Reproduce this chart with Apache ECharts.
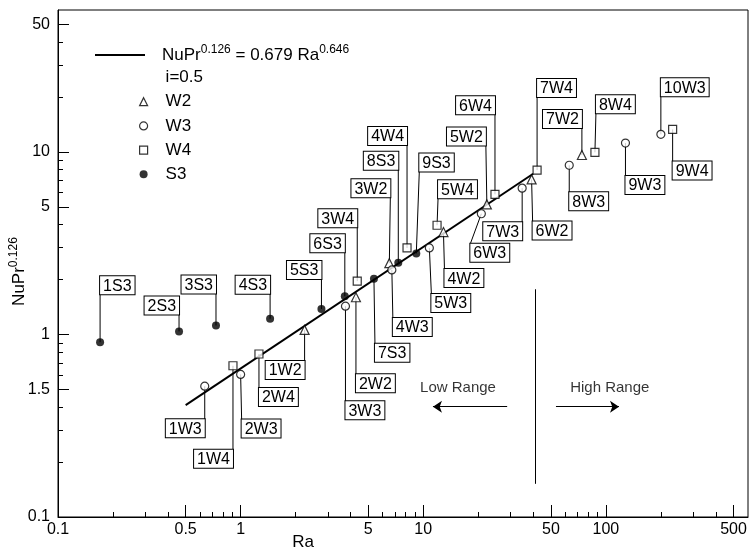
<!DOCTYPE html>
<html><head><meta charset="utf-8">
<script src="https://cdn.jsdelivr.net/npm/echarts@6/dist/echarts.min.js"></script>
<style>html,body{margin:0;padding:0;background:#fff}#c{width:751px;height:551px}</style>
</head><body><div id="c"></div>
<script>
// ---- data ----
const W2_Ra = [2.24, 4.28, 6.52, 12.9, 22.3, 39.2, 73.9];
const W2_Nu = [1.06, 1.60, 2.46, 3.64, 5.16, 7.08, 9.63];
const W2_ids = ['1W2','2W2','3W2','4W2','5W2','6W2','7W2'];

const W3_Ra = [0.636, 1.00, 3.75, 6.73, 10.8, 20.8, 34.8, 63.0, 128, 200];
const W3_Nu = [0.521, 0.604, 1.43, 2.26, 2.98, 4.59, 6.34, 8.46, 11.2, 12.5];
const W3_ids = ['1W3','2W3','3W3','4W3','5W3','6W3','7W3','8W3','9W3','10W3'];

const W4_Ra = [0.908, 1.26, 4.35, 8.15, 11.9, 24.7, 42.0, 87.1, 232];
const W4_Nu = [0.674, 0.782, 1.96, 2.98, 3.97, 5.86, 7.96, 9.96, 13.3];
const W4_ids = ['1W4','2W4','3W4','4W4','5W4','6W4','7W4','8W4','9W4'];

const S3_Ra = [0.170, 0.460, 0.733, 1.45, 2.77, 3.72, 5.37, 7.30, 9.16];
const S3_Nu = [0.907, 1.04, 1.12, 1.22, 1.38, 1.62, 2.02, 2.47, 2.78];
const S3_ids = ['1S3','2S3','3S3','4S3','5S3','6S3','7S3','8S3','9S3'];

const fitRa = [0.5, 40];
const fitNu = [0.41, 7.6];
const fitName = 'NuPr^0.126 = 0.679 Ra^0.646';

const dividerRa = [41, 41];
const dividerNu = [1.77, 0.152];
const lowArrowRa = [28.8, 11.3];
const highArrowRa = [53.3, 118];
const arrowNu = 0.402;
const rangeNotes = ['Low Range', 'High Range'];
const rangeNoteRa = [15.5, 105];
const rangeNoteNu = [0.511, 0.511];

const xMajorTicks = [0.1, 0.5, 1, 5, 10, 50, 100, 500];
const xTickLabels = ['0.1', '0.5', '1', '5', '10', '50', '100', '500'];
const xMinorTicks = [0.2,0.3,0.4,0.6,0.7,0.8,0.9,2,3,4,6,7,8,9,20,30,40,60,70,80,90,200,300,400];
const yMajorTicks = [0.1, 0.5, 1, 5, 10, 50];
const yTickLabels = ['0.1', '1.5', '1', '5', '10', '50'];
const yMinorTicks = [0.2,0.3,0.4,0.6,0.7,0.8,0.9,2,3,4,6,7,8,9,20,30,40];

// ---- label box placement (pixel offsets of the box corner from the point) ----
const labelPlace = {
 '1S3':[0,-48,'left'], '2S3':[0,-17,'right'], '3S3':[0,-32,'right'], '4S3':[0,-25,'right'],
 '5S3':[0,-30,'right'], '6S3':[0,-44,'right'], '7S3':[1,65,'left'], '8S3':[0,-93,'right'], '9S3':[3,-82,'left'],
 '1W2':[0,31,'right'], '2W2':[0,77,'left'], '3W2':[1,-66,'right'], '4W2':[1,37,'left'],
 '5W2':[-1,-59,'right'], '6W2':[1,42,'left'], '7W2':[0,-27,'right'],
 '1W3':[0,33,'right'], '2W3':[1,45,'left'], '3W3':[0,95,'left'], '4W3':[1,48,'left'], '5W3':[2,46,'left'],
 '6W3':[-11,30,'left'], '7W3':[0,34,'right'], '8W3':[0,27,'left'], '9W3':[0,33,'left'], '10W3':[0,-38,'left'],
 '1W4':[0,84,'right'], '2W4':[0,34,'left'], '3W4':[0,-54,'right'], '4W4':[0,-103,'right'], '5W4':[1,-27,'left'],
 '6W4':[0,-80,'right'], '7W4':[0,-73,'left'], '8W4':[1,-39,'left'], '9W4':[0,32,'left']
};

const FONT = 'Liberation Sans';
function pairs(xs, ys) { return xs.map((x, i) => [x, ys[i]]); }
function pickLabel(vals, labels) {
  return function (v) {
    for (let i = 0; i < vals.length; i++) {
      if (Math.abs(Math.log10(vals[i]) - Math.log10(v)) < 1e-6) return labels[i];
    }
    return '';
  };
}

const annot = [];
[[W2_Ra, W2_Nu, W2_ids], [W3_Ra, W3_Nu, W3_ids], [W4_Ra, W4_Nu, W4_ids], [S3_Ra, S3_Nu, S3_ids]].forEach(g => {
  g[0].forEach((x, i) => annot.push({ ra: x, nu: g[1][i], name: g[2][i] }));
});

const hollow = { color: '#fff', borderColor: '#000', borderWidth: 1.2 };

const chart = echarts.init(document.getElementById('c'), null, { renderer: 'canvas' });
chart.setOption({
  animation: false,
  backgroundColor: '#fff',
  textStyle: { fontFamily: FONT, color: '#000' },
  grid: { left: 58, right: 3, top: 10, bottom: 34, show: true, borderColor: '#000', borderWidth: 1,
          backgroundColor: 'transparent', containLabel: false, outerBoundsMode: 'none' },
  legend: [
    { data: [{ name: fitName, icon: 'path://M0 0 L100 0 L100 4 L0 4 Z' }], left: 95, top: 44, padding: 0,
      itemWidth: 58, itemHeight: 2, selectedMode: false,
      itemStyle: { color: '#000', borderWidth: 0 },
      formatter: () => '{f|NuPr}{s|0.126}{b| = 0.679 Ra}{s|0.646}',
      textStyle: { color: '#000', rich: {
        f: { fontSize: 17, fontFamily: FONT, lineHeight: 22, verticalAlign: 'middle', padding: [0, 0, 0, 8] },
        b: { fontSize: 17, fontFamily: FONT, lineHeight: 22, verticalAlign: 'middle' },
        s: { fontSize: 12, fontFamily: FONT, verticalAlign: 'top' } } } },
    { data: [{ name: 'i=0.5', icon: 'none' }, 'W2', 'W3', 'W4', 'S3'], orient: 'vertical',
      left: 139, top: 69, padding: 0, itemWidth: 8, itemHeight: 8, itemGap: 7.2, selectedMode: false,
      itemStyle: { borderWidth: 1.2 },
      textStyle: { fontSize: 17, color: '#000', fontFamily: FONT, padding: [0, 0, 0, 13] } }
  ],
  xAxis: [
    { type: 'log', logBase: 10, min: 0.1, max: 600, position: 'bottom',
      name: 'Ra', nameLocation: 'middle', nameGap: 17, nameMoveOverlap: false,
      nameTextStyle: { fontSize: 17, color: '#000', fontFamily: FONT, padding: [0, 200, 0, 0] },
      axisLine: { show: true, lineStyle: { color: '#000', width: 1 } },
      axisTick: { show: true, inside: true, length: 12, customValues: xMajorTicks, lineStyle: { color: '#000', width: 1 } },
      axisLabel: { customValues: xMajorTicks, formatter: pickLabel(xMajorTicks, xTickLabels), color: '#000', fontSize: 16, margin: 5, fontFamily: FONT },
      splitLine: { show: false }, minorTick: { show: false } },
    { type: 'log', logBase: 10, min: 0.1, max: 600, position: 'bottom',
      axisLine: { show: false },
      axisTick: { show: true, inside: true, length: 5, customValues: xMinorTicks, lineStyle: { color: '#000', width: 1 } },
      axisLabel: { show: false }, splitLine: { show: false } }
  ],
  yAxis: [
    { type: 'log', logBase: 10, min: 0.1, max: 60, position: 'left',
      name: '{b|NuPr}{s|0.126}', nameLocation: 'middle', nameGap: 28, nameRotate: 90, nameMoveOverlap: false,
      nameTextStyle: { color: '#000', padding: [0, 16, 0, 0], rich: {
        b: { fontSize: 17, fontFamily: FONT, lineHeight: 22, verticalAlign: 'middle' },
        s: { fontSize: 12, fontFamily: FONT, verticalAlign: 'top' } } },
      axisLine: { show: true, lineStyle: { color: '#000', width: 1 } },
      axisTick: { show: true, inside: true, length: 11, customValues: yMajorTicks, lineStyle: { color: '#000', width: 1 } },
      axisLabel: { customValues: yMajorTicks, formatter: pickLabel(yMajorTicks, yTickLabels), color: '#000', fontSize: 16, margin: 8, fontFamily: FONT },
      splitLine: { show: false }, minorTick: { show: false } },
    { type: 'log', logBase: 10, min: 0.1, max: 60, position: 'left',
      axisLine: { show: false },
      axisTick: { show: true, inside: true, length: 5, customValues: yMinorTicks, lineStyle: { color: '#000', width: 1 } },
      axisLabel: { show: false }, splitLine: { show: false } }
  ],
  series: [
    { name: fitName, type: 'line', data: pairs(fitRa, fitNu), symbol: 'none', showSymbol: false,
      lineStyle: { color: '#000', width: 2 }, itemStyle: { color: '#000' }, z: 2 },
    { name: 'labels', type: 'custom', z: 1, clip: false,
      data: annot.map(a => [a.ra, a.nu]),
      encode: { x: 0, y: 1 },
      renderItem: function (params, api) {
        const a = annot[params.dataIndex];
        const p = api.coord([api.value(0), api.value(1)]);
        const L = labelPlace[a.name];
        const ax = p[0] + L[0], ay = p[1] + L[1];
        return { type: 'group', children: [
          { type: 'line', shape: { x1: p[0], y1: p[1], x2: ax, y2: ay }, style: { stroke: '#000', lineWidth: 1 } },
          { type: 'text', x: ax, y: ay, style: { text: a.name, font: '16px "' + FONT + '"', fill: '#000',
              align: L[2], verticalAlign: L[1] < 0 ? 'bottom' : 'top',
              backgroundColor: '#fff', borderColor: '#000', borderWidth: 1, padding: [2, 3, 0, 3] } }
        ] };
      } },
    { name: 'i=0.5', type: 'scatter', data: [] },
    { name: 'W2', type: 'scatter', symbol: 'triangle', symbolSize: 9, data: pairs(W2_Ra, W2_Nu), itemStyle: hollow, z: 3 },
    { name: 'W3', type: 'scatter', symbol: 'circle', symbolSize: 8, data: pairs(W3_Ra, W3_Nu), itemStyle: hollow, z: 3 },
    { name: 'W4', type: 'scatter', symbol: 'rect', symbolSize: 8, data: pairs(W4_Ra, W4_Nu), itemStyle: hollow, z: 3 },
    { name: 'S3', type: 'scatter', symbol: 'circle', symbolSize: 8, data: pairs(S3_Ra, S3_Nu), itemStyle: { color: '#000' }, z: 3 },
    { name: 'divider', type: 'lines', coordinateSystem: 'cartesian2d', polyline: false,
      data: [{ coords: pairs(dividerRa, dividerNu) }], lineStyle: { color: '#000', width: 1, opacity: 1 }, symbol: 'none' },
    { name: 'arrows', type: 'lines', coordinateSystem: 'cartesian2d', polyline: false,
      symbol: ['none', 'arrow'], symbolSize: 9,
      data: [{ coords: [[lowArrowRa[0], arrowNu], [lowArrowRa[1], arrowNu]] },
             { coords: [[highArrowRa[0], arrowNu], [highArrowRa[1], arrowNu]] }],
      lineStyle: { color: '#000', width: 1, opacity: 1 } },
    { name: 'notes', type: 'scatter', symbolSize: 0, data: pairs(rangeNoteRa, rangeNoteNu),
      label: { show: true, position: 'inside', color: '#000', fontSize: 15, fontFamily: FONT,
               formatter: p => rangeNotes[p.dataIndex] } }
  ]
});
</script></body></html>
